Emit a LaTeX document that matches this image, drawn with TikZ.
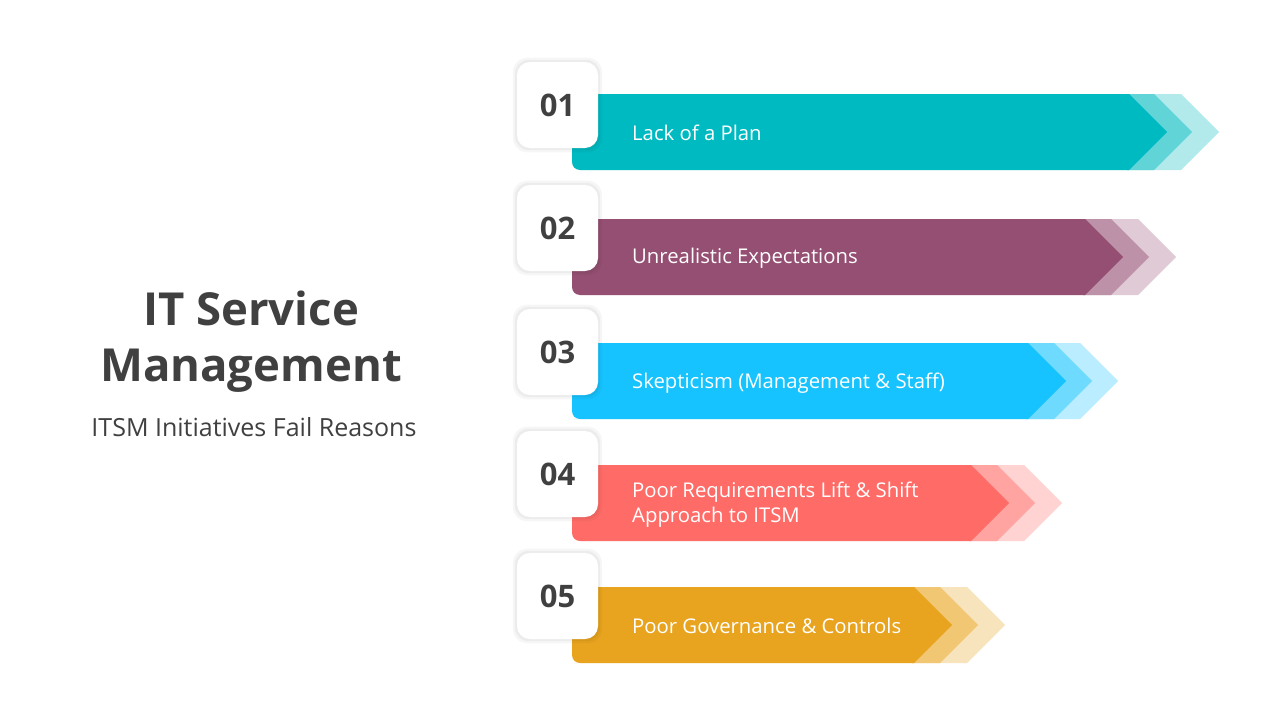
\documentclass[tikz,border=0pt]{standalone}
\usepackage{fontspec}
\setmainfont{Open Sans}
\usepackage{xcolor}
\usepackage{tikz}
\usetikzlibrary{shadows}
\definecolor{ink}{RGB}{64,64,64}
\definecolor{teal1}{RGB}{0,186,193}
\definecolor{plum}{RGB}{149,79,114}
\definecolor{sky}{RGB}{22,195,254}
\definecolor{coral}{RGB}{255,108,104}
\definecolor{amber}{RGB}{233,164,31}

\begin{document}
\begin{tikzpicture}[x=1pt,y=-1pt,
 numbox/.style={fill=white,rounded corners=13pt,minimum width=81pt,minimum height=86pt,inner sep=0pt,
  text=ink,font=\bfseries\fontsize{31}{36}\selectfont,
  general shadow={fill=black,opacity=0.035,shadow scale=1.10},
  general shadow={fill=black,opacity=0.04,shadow scale=1.05}},
 lbl/.style={anchor=west,inner sep=0pt,text=white,align=left,font=\fontsize{20.3}{25}\selectfont}]
 \useasboundingbox (0,0) rectangle (1280,720);
 \fill[white] (0,0) rectangle (1280,720);
 % title block
 \node[text=ink,align=center,font=\bfseries\fontsize{45.5}{56}\selectfont] (ttl) at (251,342) {IT Service\\Management};
 \node[text=ink,font=\fontsize{25}{29}\selectfont] (sub) at (254,427) {ITSM Initiatives Fail Reasons};
 % row 01
 \fill[teal1!30] (1127,94) -- (1181,94) -- (1219,132) -- (1181,170) -- (1127,170) -- cycle;
 \fill[teal1!62] (1127,94) -- (1154,94) -- (1192,132) -- (1154,170) -- (1127,170) -- cycle;
 \fill[teal1] (1167,132) -- (1129,170) -- (700,170) [rounded corners=8pt] -- (572,170) -- (572,94) -- (700,94) [sharp corners] -- (1129,94) -- cycle;
 % row 02
 \fill[plum!30] (1083,219) -- (1138,219) -- (1176,257) -- (1138,295) -- (1083,295) -- cycle;
 \fill[plum!62] (1083,219) -- (1111,219) -- (1149,257) -- (1111,295) -- (1083,295) -- cycle;
 \fill[plum] (1123,257) -- (1085,295) -- (700,295) [rounded corners=8pt] -- (572,295) -- (572,219) -- (700,219) [sharp corners] -- (1085,219) -- cycle;
 % row 03
 \fill[sky!30] (1026,343) -- (1080,343) -- (1118,381) -- (1080,419) -- (1026,419) -- cycle;
 \fill[sky!62] (1026,343) -- (1054,343) -- (1092,381) -- (1054,419) -- (1026,419) -- cycle;
 \fill[sky] (1066,381) -- (1028,419) -- (700,419) [rounded corners=8pt] -- (572,419) -- (572,343) -- (700,343) [sharp corners] -- (1028,343) -- cycle;
 % row 04
 \fill[coral!30] (969,465) -- (1024,465) -- (1062,503) -- (1024,541) -- (969,541) -- cycle;
 \fill[coral!62] (969,465) -- (997,465) -- (1035,503) -- (997,541) -- (969,541) -- cycle;
 \fill[coral] (1009,503) -- (971,541) -- (700,541) [rounded corners=8pt] -- (572,541) -- (572,465) -- (700,465) [sharp corners] -- (971,465) -- cycle;
 % row 05
 \fill[amber!30] (912,587) -- (967,587) -- (1005,625) -- (967,663) -- (912,663) -- cycle;
 \fill[amber!62] (912,587) -- (940,587) -- (978,625) -- (940,663) -- (912,663) -- cycle;
 \fill[amber] (952,625) -- (914,663) -- (700,663) [rounded corners=8pt] -- (572,663) -- (572,587) -- (700,587) [sharp corners] -- (914,587) -- cycle;
 % number boxes
 \node[numbox] (n1) at (557.5,105) {01};
 \node[numbox] (n2) at (557.5,228) {02};
 \node[numbox] (n3) at (557.5,352) {03};
 \node[numbox] (n4) at (557.5,474) {04};
 \node[numbox] (n5) at (557.5,596) {05};
 % labels
 \node[lbl] (t1) at (632,133) {Lack of a Plan};
 \node[lbl] (t2) at (632,258) {Unrealistic Expectations};
 \node[lbl] (t3) at (632,383) {Skepticism (Management \& Staff)};
 \node[lbl] (t4) at (632,505) {Poor Requirements Lift \& Shift\\Approach to ITSM};
 \node[lbl] (t5) at (632,626) {Poor Governance \& Controls};
\end{tikzpicture}
\end{document}
